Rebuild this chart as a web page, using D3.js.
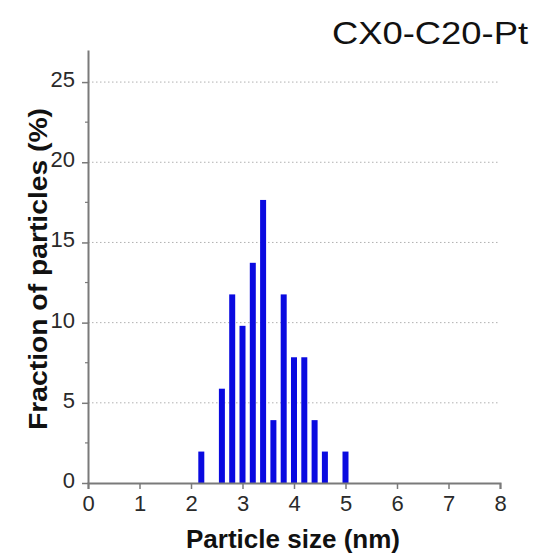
<!DOCTYPE html>
<html>
<head>
<meta charset="utf-8">
<script src="https://cdn.jsdelivr.net/npm/d3@7"></script>
<style>
  html, body { margin: 0; padding: 0; background: #fff; }
  svg { display: block; font-family: "Liberation Sans", Arial, sans-serif; }
</style>
</head>
<body>
<svg id="chart" width="540" height="554"></svg>
<script>
// Particle size distribution (histogram bins, nm) and fraction of particles (%)
const sizes = [2.2, 2.6, 2.8, 3.0, 3.2, 3.4, 3.6, 3.8, 4.0, 4.2, 4.4, 4.6, 5.0];
const fractions = [1.96, 5.88, 11.76, 9.80, 13.73, 17.65, 3.92, 11.76, 7.84, 7.84, 3.92, 1.96, 1.96];
const xTicks = [0, 1, 2, 3, 4, 5, 6, 7, 8];
const yTicks = [0, 5, 10, 15, 20, 25];
const yMinorTicks = [2.5, 7.5, 12.5, 17.5, 22.5];
const title = "CX0-C20-Pt";
const xTitle = "Particle size (nm)";
const yTitle = "Fraction of particles (%)";

const svg = d3.select("#chart");
const plotLeft = 88, plotRight = 500, plotTop = 50, plotBottom = 483;

const x = d3.scaleLinear().domain([0, 8]).range([plotLeft, plotRight]);
const y = d3.scaleLinear().domain([0, 27]).range([plotBottom, plotTop]);

const axisColor = "#7a7a7a";
const labelColor = "#2a2a2a";

// dotted grid lines
svg.append("g")
  .selectAll("line")
  .data(yTicks.filter(d => d > 0))
  .join("line")
  .attr("x1", plotLeft).attr("x2", plotRight)
  .attr("y1", d => y(d)).attr("y2", d => y(d))
  .attr("stroke", "#b0b0b0")
  .attr("stroke-width", 1)
  .attr("stroke-dasharray", "1.5,2.5");

// bars
const barW = 6;
svg.append("g")
  .selectAll("rect")
  .data(sizes.map((s, i) => ({ s, v: fractions[i] })))
  .join("rect")
  .attr("x", d => x(d.s) - barW / 2)
  .attr("width", barW)
  .attr("y", d => y(d.v))
  .attr("height", d => y(0) - y(d.v))
  .attr("fill", "#0a0ae0");

// x axis
const xAxis = svg.append("g")
  .attr("transform", `translate(0,${plotBottom})`)
  .call(d3.axisBottom(x).tickValues(xTicks).tickSize(6).tickPadding(6).tickFormat(d3.format("d")));
xAxis.select(".domain").attr("stroke", axisColor).attr("stroke-width", 2);
xAxis.selectAll(".tick line").attr("stroke", axisColor).attr("stroke-width", 1.5);
xAxis.selectAll(".tick text")
  .attr("fill", labelColor).attr("font-size", 22)
  .attr("font-family", "Liberation Sans, Arial, sans-serif");

// y axis
const yAxis = svg.append("g")
  .attr("transform", `translate(${plotLeft},0)`)
  .call(d3.axisLeft(y).tickValues(yTicks).tickSize(6).tickPadding(7).tickFormat(d3.format("d")).tickSizeOuter(0));
yAxis.select(".domain").attr("stroke", axisColor).attr("stroke-width", 2);
yAxis.selectAll(".tick line").attr("stroke", axisColor).attr("stroke-width", 1.5);
yAxis.selectAll(".tick text")
  .attr("fill", labelColor).attr("font-size", 22)
  .attr("dy", "0.2em")
  .attr("font-family", "Liberation Sans, Arial, sans-serif");

// y minor ticks
svg.append("g")
  .selectAll("line")
  .data(yMinorTicks)
  .join("line")
  .attr("x1", plotLeft - 3).attr("x2", plotLeft)
  .attr("y1", d => y(d)).attr("y2", d => y(d))
  .attr("stroke", axisColor).attr("stroke-width", 1.2);

// titles
svg.append("text")
  .attr("x", 332).attr("y", 44)
  .attr("font-size", 31)
  .attr("textLength", 196)
  .attr("lengthAdjust", "spacingAndGlyphs")
  .attr("fill", "#111")
  .text(title);

svg.append("text")
  .attr("x", 186).attr("y", 548)
  .attr("font-size", 25)
  .attr("font-weight", "bold")
  .attr("textLength", 214)
  .attr("lengthAdjust", "spacingAndGlyphs")
  .attr("fill", "#111")
  .text(xTitle);

svg.append("text")
  .attr("transform", "translate(47,430) rotate(-90)")
  .attr("font-size", 25)
  .attr("font-weight", "bold")
  .attr("textLength", 322)
  .attr("lengthAdjust", "spacingAndGlyphs")
  .attr("fill", "#111")
  .text(yTitle);
</script>
</body>
</html>
